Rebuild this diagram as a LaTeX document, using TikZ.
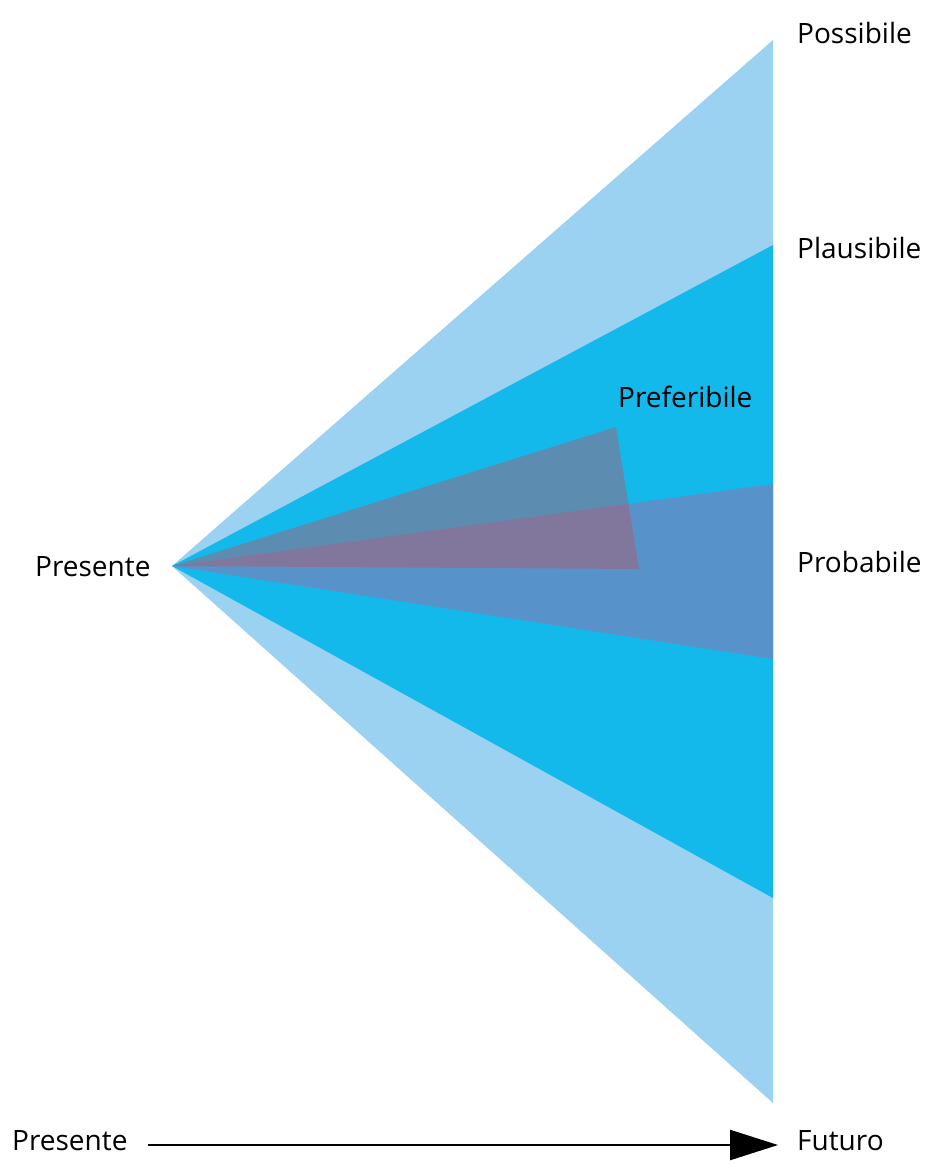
\documentclass[tikz,border=0pt]{standalone}
\usepackage{fontspec}
\setmainfont{Open Sans}
\usetikzlibrary{arrows.meta}
\definecolor{possc}{HTML}{9BD1F1}
\definecolor{plauc}{HTML}{14B9EC}
\definecolor{probc}{HTML}{5892CB}
\definecolor{prefc}{RGB}{180,87,103}
\tikzset{
  lbl/.style={anchor=base west, inner sep=0pt, font=\fontsize{28}{32}\selectfont, text=black},
  cone/.style={draw=none}
}
\begin{document}
\begin{tikzpicture}[x=1pt,y=-1pt]
\useasboundingbox (0,0) rectangle (930,1173);
\coordinate (apex) at (172,566);
\coordinate (possT) at (773,40);
\coordinate (possB) at (773,1103);
\coordinate (plauT) at (773,245);
\coordinate (plauB) at (773,898);
\coordinate (probT) at (773,484);
\coordinate (probB) at (773,659);
\coordinate (prefT) at (616,427);
\coordinate (prefB) at (639,569);
\fill[possc] (apex) -- (possT) -- (possB) -- cycle;
\fill[plauc] (apex) -- (plauT) -- (plauB) -- cycle;
\fill[probc] (apex) -- (probT) -- (probB) -- cycle;
\fill[prefc, fill opacity=0.45] (apex) -- (prefT) -- (prefB) -- cycle;
\node[lbl] (possl) at (797,43) {Possibile};
\node[lbl] (plaul) at (797,258) {Plausibile};
\node[lbl] (prefl) at (618,407) {Preferibile};
\node[lbl] (probl) at (797,572) {Probabile};
\node[lbl] (presl) at (35,576) {Presente};
\node[lbl] (pres2) at (12,1150) {Presente};
\node[lbl] (futl) at (797,1150) {Futuro};
\coordinate (arS) at (148,1145);
\coordinate (arE) at (778,1145);
\draw[line width=2.5pt, -{Triangle[length=48pt,width=30pt]}] (arS) -- (arE);
\end{tikzpicture}
\end{document}
